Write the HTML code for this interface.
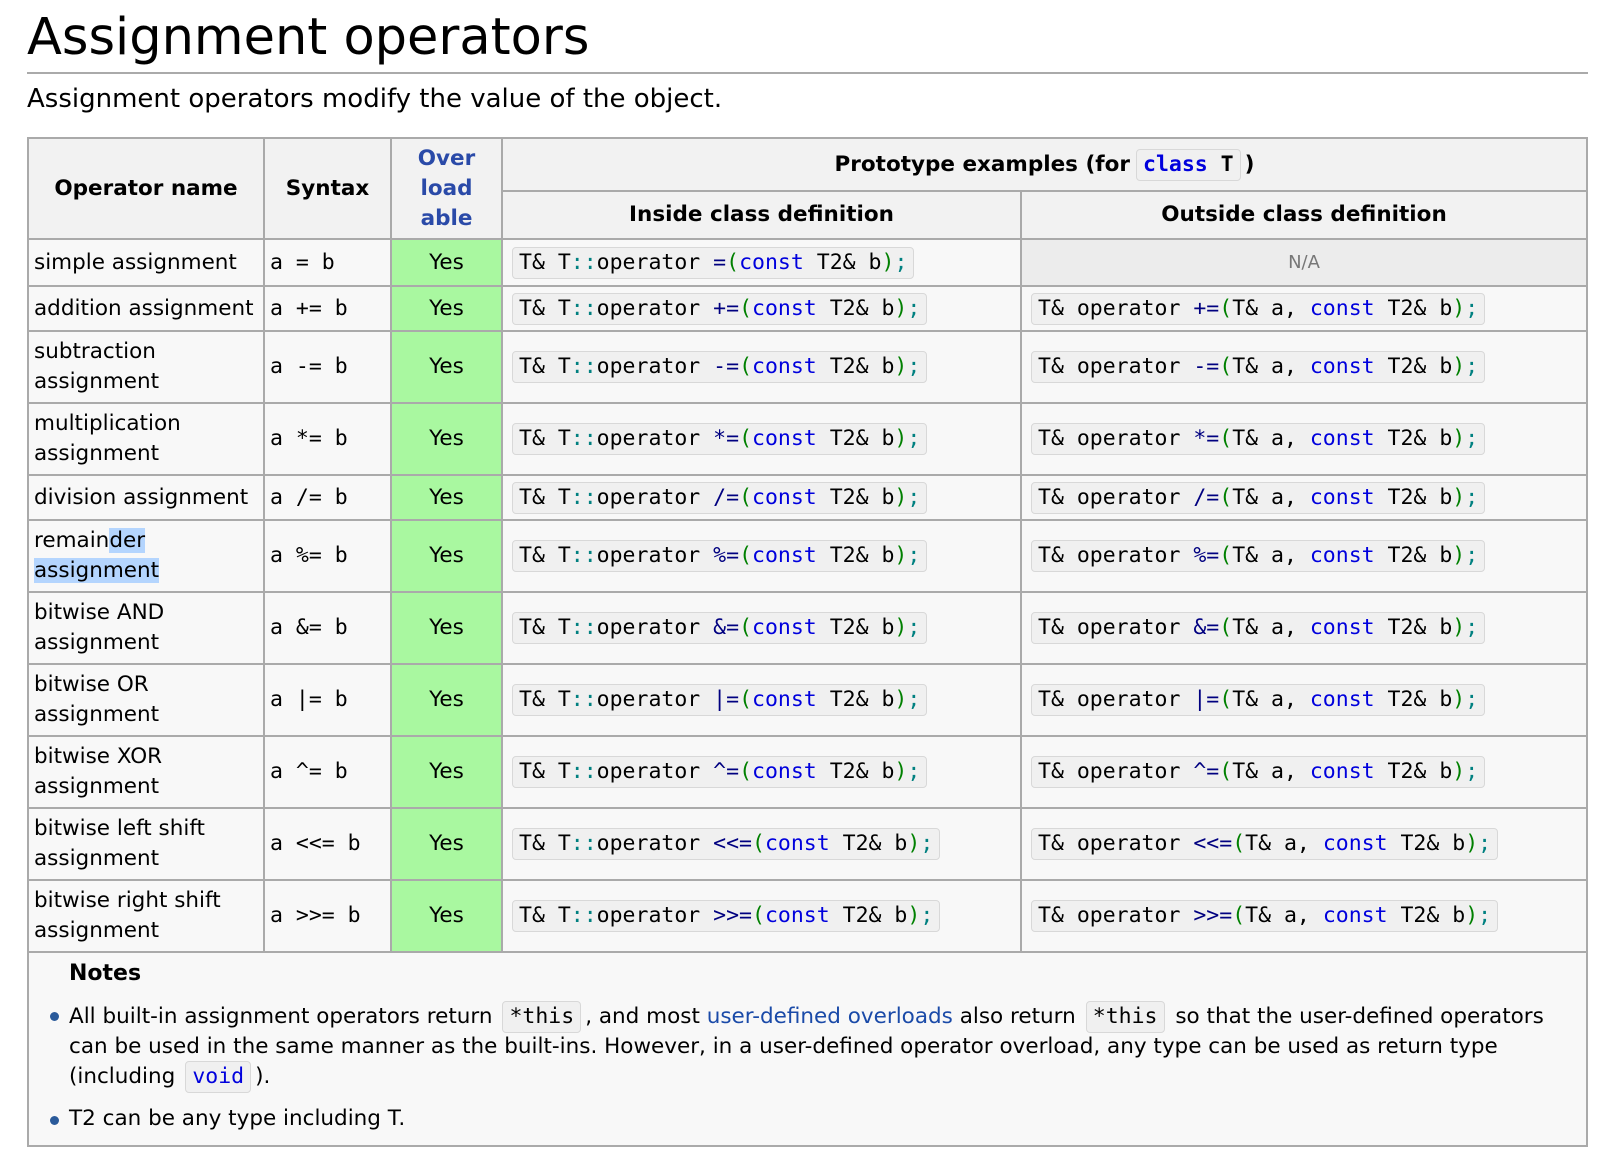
<!DOCTYPE html>
<html><head><meta charset="utf-8">
<style>
html,body{margin:0;padding:0;background:#fff;}
body{width:1614px;height:1160px;position:relative;overflow:hidden;font-family:"DejaVu Sans","Liberation Sans",sans-serif;color:#000;}
h1{position:absolute;left:27px;top:0;margin:0;font-weight:normal;font-size:51px;line-height:76px;}
.hr{position:absolute;left:27px;top:72px;width:1561px;height:2px;background:#aaa;}
.sub{position:absolute;left:27px;top:82px;font-size:26px;line-height:34px;}
table{position:absolute;left:27px;top:137px;border-collapse:collapse;table-layout:fixed;font-size:21.5px;}
td,th{border:2px solid #aaa;padding:0 5px;background:#f8f8f8;line-height:30px;}
th{background:#f2f2f2;font-weight:bold;text-align:center;}
.blue{color:#2a4aa8;}
.yes{background:#a9f8a0;text-align:center;}
.na{background:#ececec;text-align:center;color:#777;font-size:18px;}
.mono,code{font-family:"DejaVu Sans Mono","Liberation Mono",monospace;}
code{display:inline-block;background:#f0f0f0;border:1px solid #d8d8d8;border-radius:4px;padding:2px 6px;line-height:26px;font-size:21.5px;margin-left:4px;}
th code{margin:0 4px 0 6px;}
.c1{color:#008080}.op{color:#000080}.br{color:#008000}.kw{color:#0000dd}
.sel{background:#b4d5fe;}
.notes td{background:#f8f8f8;vertical-align:top;padding:6px 0 0 0;}
.nh{font-weight:bold;margin-left:40px;font-size:22px;line-height:30px;}
ul{margin:12px 0 0 0;padding:0 0 0 40px;list-style:none;}
li{position:relative;line-height:28px;margin-bottom:12px;padding-right:30px;}
li code{margin:0 4px 0 10px;}
li:before{content:"";position:absolute;left:-19px;top:11px;width:9px;height:9px;border-radius:50%;background:#2a5a9a;}
a{color:#1a4aa8;text-decoration:none;}
</style></head><body>
<h1>Assignment operators</h1>
<div class="hr"></div>
<div class="sub">Assignment operators modify the value of the object.</div>
<table>
<colgroup><col style="width:236px"><col style="width:127px"><col style="width:111px"><col style="width:519px"><col style="width:566px"></colgroup>
<tr style="height:53px">
<th rowspan="2">Operator name</th>
<th rowspan="2">Syntax</th>
<th rowspan="2" class="blue">Over<br>load<br>able</th>
<th colspan="2">Prototype examples (for<code><span class="kw">class</span> T</code>)</th>
</tr>
<tr style="height:48px">
<th>Inside class definition</th>
<th>Outside class definition</th>
</tr>
<tr style="height:47px"><td>simple assignment</td><td class="mono">a = b</td><td class="yes">Yes</td><td><code>T&amp; T<span class="c1">::</span>operator <span class="op">=</span><span class="br">(</span><span class="kw">const</span> T2&amp; b<span class="br">)</span><span class="c1">;</span></code></td><td class="na">N/A</td></tr>
<tr style="height:45px"><td>addition assignment</td><td class="mono">a += b</td><td class="yes">Yes</td><td><code>T&amp; T<span class="c1">::</span>operator <span class="op">+=</span><span class="br">(</span><span class="kw">const</span> T2&amp; b<span class="br">)</span><span class="c1">;</span></code></td><td><code>T&amp; operator <span class="op">+=</span><span class="br">(</span>T&amp; a, <span class="kw">const</span> T2&amp; b<span class="br">)</span><span class="c1">;</span></code></td></tr>
<tr style="height:72px"><td>subtraction<br>assignment</td><td class="mono">a -= b</td><td class="yes">Yes</td><td><code>T&amp; T<span class="c1">::</span>operator <span class="op">-=</span><span class="br">(</span><span class="kw">const</span> T2&amp; b<span class="br">)</span><span class="c1">;</span></code></td><td><code>T&amp; operator <span class="op">-=</span><span class="br">(</span>T&amp; a, <span class="kw">const</span> T2&amp; b<span class="br">)</span><span class="c1">;</span></code></td></tr>
<tr style="height:72px"><td>multiplication<br>assignment</td><td class="mono">a *= b</td><td class="yes">Yes</td><td><code>T&amp; T<span class="c1">::</span>operator <span class="op">*=</span><span class="br">(</span><span class="kw">const</span> T2&amp; b<span class="br">)</span><span class="c1">;</span></code></td><td><code>T&amp; operator <span class="op">*=</span><span class="br">(</span>T&amp; a, <span class="kw">const</span> T2&amp; b<span class="br">)</span><span class="c1">;</span></code></td></tr>
<tr style="height:45px"><td>division assignment</td><td class="mono">a /= b</td><td class="yes">Yes</td><td><code>T&amp; T<span class="c1">::</span>operator <span class="op">/=</span><span class="br">(</span><span class="kw">const</span> T2&amp; b<span class="br">)</span><span class="c1">;</span></code></td><td><code>T&amp; operator <span class="op">/=</span><span class="br">(</span>T&amp; a, <span class="kw">const</span> T2&amp; b<span class="br">)</span><span class="c1">;</span></code></td></tr>
<tr style="height:72px"><td>remain<span class="sel">der </span><br><span class="sel">assignment</span></td><td class="mono">a %= b</td><td class="yes">Yes</td><td><code>T&amp; T<span class="c1">::</span>operator <span class="op">%=</span><span class="br">(</span><span class="kw">const</span> T2&amp; b<span class="br">)</span><span class="c1">;</span></code></td><td><code>T&amp; operator <span class="op">%=</span><span class="br">(</span>T&amp; a, <span class="kw">const</span> T2&amp; b<span class="br">)</span><span class="c1">;</span></code></td></tr>
<tr style="height:72px"><td>bitwise AND<br>assignment</td><td class="mono">a &amp;= b</td><td class="yes">Yes</td><td><code>T&amp; T<span class="c1">::</span>operator <span class="op">&amp;=</span><span class="br">(</span><span class="kw">const</span> T2&amp; b<span class="br">)</span><span class="c1">;</span></code></td><td><code>T&amp; operator <span class="op">&amp;=</span><span class="br">(</span>T&amp; a, <span class="kw">const</span> T2&amp; b<span class="br">)</span><span class="c1">;</span></code></td></tr>
<tr style="height:72px"><td>bitwise OR<br>assignment</td><td class="mono">a |= b</td><td class="yes">Yes</td><td><code>T&amp; T<span class="c1">::</span>operator <span class="op">|=</span><span class="br">(</span><span class="kw">const</span> T2&amp; b<span class="br">)</span><span class="c1">;</span></code></td><td><code>T&amp; operator <span class="op">|=</span><span class="br">(</span>T&amp; a, <span class="kw">const</span> T2&amp; b<span class="br">)</span><span class="c1">;</span></code></td></tr>
<tr style="height:72px"><td>bitwise XOR<br>assignment</td><td class="mono">a ^= b</td><td class="yes">Yes</td><td><code>T&amp; T<span class="c1">::</span>operator <span class="op">^=</span><span class="br">(</span><span class="kw">const</span> T2&amp; b<span class="br">)</span><span class="c1">;</span></code></td><td><code>T&amp; operator <span class="op">^=</span><span class="br">(</span>T&amp; a, <span class="kw">const</span> T2&amp; b<span class="br">)</span><span class="c1">;</span></code></td></tr>
<tr style="height:72px"><td>bitwise left shift<br>assignment</td><td class="mono">a &lt;&lt;= b</td><td class="yes">Yes</td><td><code>T&amp; T<span class="c1">::</span>operator <span class="op">&lt;&lt;=</span><span class="br">(</span><span class="kw">const</span> T2&amp; b<span class="br">)</span><span class="c1">;</span></code></td><td><code>T&amp; operator <span class="op">&lt;&lt;=</span><span class="br">(</span>T&amp; a, <span class="kw">const</span> T2&amp; b<span class="br">)</span><span class="c1">;</span></code></td></tr>
<tr style="height:72px"><td>bitwise right shift<br>assignment</td><td class="mono">a &gt;&gt;= b</td><td class="yes">Yes</td><td><code>T&amp; T<span class="c1">::</span>operator <span class="op">&gt;&gt;=</span><span class="br">(</span><span class="kw">const</span> T2&amp; b<span class="br">)</span><span class="c1">;</span></code></td><td><code>T&amp; operator <span class="op">&gt;&gt;=</span><span class="br">(</span>T&amp; a, <span class="kw">const</span> T2&amp; b<span class="br">)</span><span class="c1">;</span></code></td></tr>
<tr class="notes" style="height:192px"><td colspan="5">
<div class="nh">Notes</div>
<ul>
<li>All built-in assignment operators return<code>*this</code>, and most <a href="#">user-defined overloads</a> also return<code>*this</code> so that the user-defined operators can be used in the same manner as the built-ins. However, in a user-defined operator overload, any type can be used as return type (including<code><span class="kw">void</span></code>).</li>
<li>T2 can be any type including T.</li>
</ul>
</td></tr>
</table>
</body></html>
